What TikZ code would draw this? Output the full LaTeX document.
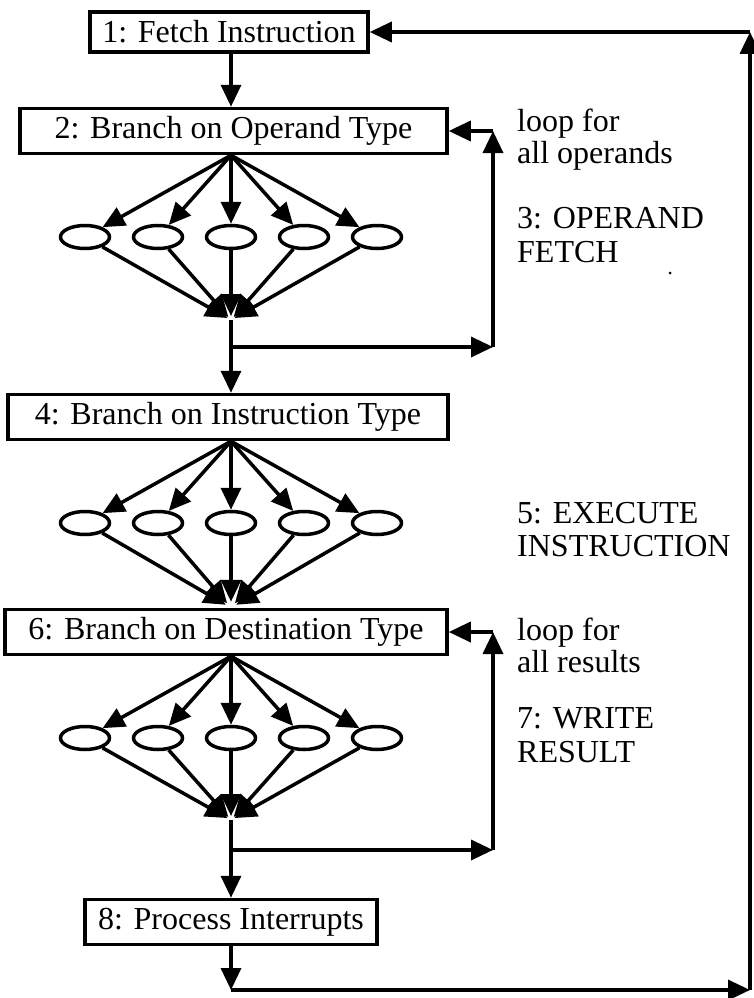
\documentclass[tikz,border=0pt]{standalone}
\usepackage{fontspec}
\setmainfont{Liberation Serif}
\usetikzlibrary{arrows.meta,shapes.geometric}
\begin{document}
\begin{tikzpicture}[x=1pt,y=-1pt,
  every node/.style={font=\fontsize{32}{33}\selectfont},
  box/.style={draw, line width=3.5pt, minimum height=45pt, inner sep=0pt},
  oval/.style={draw, ellipse, line width=3.5pt, minimum width=49pt, minimum height=23pt, inner sep=0pt},
  wire/.style={line width=3.5pt},
  arr/.style={wire, -{Triangle[length=22pt,width=20pt]}},
  note/.style={anchor=base west, inner sep=0pt}]
\useasboundingbox (0,0) rectangle (754,998);

% main boxes of the instruction cycle
\node[box, minimum width=278pt, minimum height=40pt] (s1box) at (229,32) {1: Fetch Instruction};
\node[box, minimum width=427pt] (s2box) at (233.5,131) {2: Branch on Operand Type};
\node[box, minimum width=440pt] (s4box) at (228,417) {4: Branch on Instruction Type};
\node[box, minimum width=442pt] (s6box) at (226,632) {6: Branch on Destination Type};
\node[box, minimum width=292pt] (s8box) at (231,922) {8: Process Interrupts};

% the three rows of alternative branches
\foreach \r/\y in {oa/237, ob/523, oc/738} {
  \foreach \i/\x in {1/85, 2/158, 3/231, 4/304, 5/377}
    \node[oval] (\r\i) at (\x,\y) {};
}

% junction points and routing corners
\coordinate (j1) at (231,320);
\coordinate (j3) at (231,820);
\coordinate (t1) at (231,347);
\coordinate (t3) at (231,850);
\coordinate (r1) at (493,347);
\coordinate (r3) at (493,850);
\coordinate (bot) at (231,990);
\coordinate (rb) at (750,990);
\coordinate (rt) at (750,32);

% fetch to operand dispatch
\draw[arr] (s1box.south -| j1) -- (s2box.north -| j1);

% operand fetch fan
\foreach \i in {1,...,5} {
  \draw[arr] (s2box.south -| j1) -- (oa\i);
  \draw[arr, shorten >=4pt] (oa\i) -- (j1);
}
\draw[wire] (j1) -- (t1);
\draw[arr] (t1) -- (s4box.north -| t1);
\draw[arr] (t1) -- (r1);
\draw[arr] (r1) -- (r1 |- s2box.east);
\draw[arr] (r1 |- s2box.east) -- (s2box.east);

% execute fan
\foreach \i in {1,...,5} {
  \draw[arr] (s4box.south -| j1) -- (ob\i);
  \draw[arr, shorten >=6pt] (ob\i) -- (s6box.north -| j1);
}

% write result fan
\foreach \i in {1,...,5} {
  \draw[arr] (s6box.south -| j3) -- (oc\i);
  \draw[arr, shorten >=4pt] (oc\i) -- (j3);
}
\draw[wire] (j3) -- (t3);
\draw[arr] (t3) -- (s8box.north -| t3);
\draw[arr] (t3) -- (r3);
\draw[arr] (r3) -- (r3 |- s6box.east);
\draw[arr] (r3 |- s6box.east) -- (s6box.east);

% return to fetch
\draw[arr] (s8box.south -| bot) -- (bot);
\draw[arr] (bot) -- (rb);
\draw[arr] (rb) -- (rt);
\draw[arr] (rt) -- (s1box.east);

% side labels
\node[note] (l1) at (517,131) {loop for};
\node[note] (l2) at (517,163) {all operands};
\node[note] (l3) at (517,228) {3: OPERAND};
\node[note] (l4) at (517,262) {FETCH};
\node[note] (l5) at (517,523) {5: EXECUTE};
\node[note] (l6) at (517,556) {INSTRUCTION};
\node[note] (l7) at (517,640) {loop for};
\node[note] (l8) at (517,672) {all results};
\node[note] (l9) at (517,728) {7: WRITE};
\node[note] (l10) at (517,762) {RESULT};
\fill (670,273) circle (1.5pt);
\end{tikzpicture}
\end{document}
